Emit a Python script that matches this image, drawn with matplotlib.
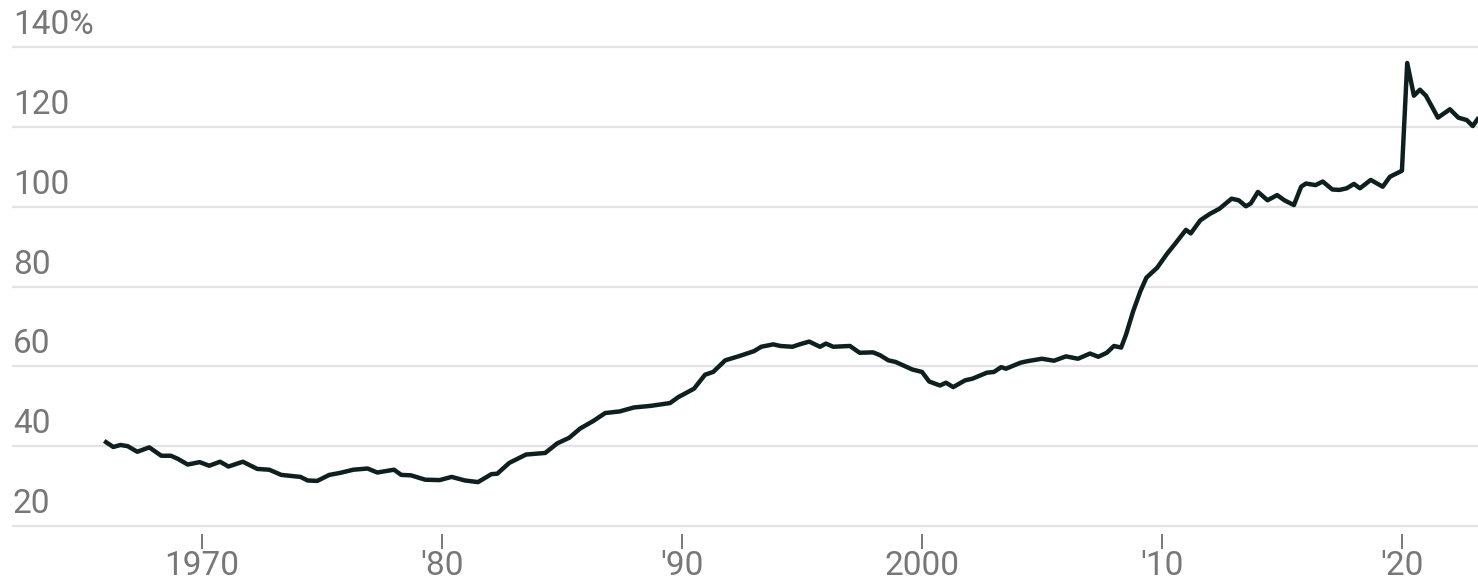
import matplotlib
matplotlib.use("Agg")
import matplotlib.pyplot as plt

# debt as % of GDP (decimal years)
years = [1966.0, 1966.3, 1966.6, 1966.9, 1967.3, 1967.8, 1968.3, 1968.7, 1969.0, 1969.4,
         1969.9, 1970.3, 1970.75, 1971.1, 1971.7, 1972.3, 1972.8, 1973.3, 1974.1, 1974.4,
         1974.8, 1975.3, 1975.75, 1976.3, 1976.9, 1977.3, 1978.0, 1978.3, 1978.7, 1979.3,
         1979.9, 1980.4, 1980.96, 1981.5, 1982.06, 1982.3, 1982.8, 1983.5, 1984.3, 1984.8,
         1985.3, 1985.75, 1986.3, 1986.8, 1987.4, 1988.0, 1988.7, 1989.5, 1989.85, 1990.5,
         1990.96, 1991.3, 1991.8, 1992.4, 1993.0, 1993.3, 1993.8, 1994.1, 1994.6, 1994.9,
         1995.3, 1995.75, 1996.0, 1996.3, 1997.0, 1997.4, 1997.96, 1998.25, 1998.6, 1998.9,
         1999.6, 2000.0, 2000.3, 2000.75, 2001.0, 2001.3, 2001.8, 2002.1, 2002.7, 2003.0,
         2003.3, 2003.5, 2004.1, 2004.4, 2005.0, 2005.5, 2006.0, 2006.5, 2007.0, 2007.35,
         2007.7, 2008.0, 2008.3, 2008.5, 2008.8, 2009.1, 2009.35, 2009.8, 2010.2, 2010.6,
         2011.0, 2011.2, 2011.6, 2012.0, 2012.4, 2012.9, 2013.2, 2013.5, 2013.7, 2014.0,
         2014.4, 2014.8, 2015.1, 2015.5, 2015.8, 2016.0, 2016.4, 2016.7, 2017.1, 2017.4,
         2017.7, 2018.0, 2018.25, 2018.7, 2019.2, 2019.5, 2020.0, 2020.22, 2020.5, 2020.75,
         2021.0, 2021.5, 2022.0, 2022.35, 2022.7, 2022.95, 2023.15]
debt_pct = [41.0, 39.8, 40.3, 40.0, 38.6, 39.7, 37.6, 37.6, 36.8, 35.4,
            36.0, 35.1, 36.1, 34.9, 36.1, 34.3, 34.1, 32.8, 32.3, 31.4,
            31.3, 32.8, 33.3, 34.1, 34.4, 33.4, 34.1, 32.8, 32.7, 31.6,
            31.5, 32.3, 31.4, 31.0, 33.0, 33.1, 35.8, 37.9, 38.3, 40.7,
            42.1, 44.4, 46.3, 48.3, 48.7, 49.7, 50.1, 50.8, 52.3, 54.4,
            57.9, 58.6, 61.5, 62.6, 63.8, 64.9, 65.5, 65.1, 64.9, 65.5,
            66.2, 64.9, 65.7, 64.9, 65.1, 63.4, 63.5, 62.8, 61.5, 61.1,
            59.2, 58.6, 56.2, 55.2, 55.9, 54.8, 56.5, 56.9, 58.4, 58.6,
            59.8, 59.4, 60.9, 61.3, 61.9, 61.4, 62.5, 61.9, 63.2, 62.4,
            63.4, 65.1, 64.7, 67.9, 73.8, 78.8, 82.2, 84.7, 88.1, 91.1,
            94.2, 93.3, 96.6, 98.2, 99.5, 102.0, 101.6, 100.1, 100.8, 103.7,
            101.6, 102.9, 101.6, 100.4, 105.0, 105.8, 105.4, 106.3, 104.3, 104.2,
            104.6, 105.7, 104.6, 106.7, 105.0, 107.5, 109.0, 136.0, 127.8, 129.3,
            127.8, 122.3, 124.4, 122.3, 121.7, 120.2, 121.9]

yticks = [20, 40, 60, 80, 100, 120, 140]
ytick_labels = ["20", "40", "60", "80", "100", "120", "140%"]
xticks = [1970, 1980, 1990, 2000, 2010, 2020]
xtick_labels = ["1970", "'80", "'90", "2000", "'10", "'20"]

W, H = 1478, 579
grey = "#777777"
plt.rcParams["font.family"] = ["Roboto", "DejaVu Sans"]

fig = plt.figure(figsize=(W / 100, H / 100), dpi=100)
# pixel layout: gridline 140 at y=47, 20 at y=526; axis from x=12 to right edge
ppu = (526 - 47) / 120
top_px = 47 - 2 * ppu
bot_px = 526 + 2 * ppu
ax = fig.add_axes([12 / W, (H - bot_px) / H, 1 - 12 / W, (bot_px - top_px) / H])
ax.set_ylim(18, 142)
ax.set_xlim(1962.08, 2023.17)

for v, lab in zip(yticks, ytick_labels):
    ax.axhline(v, color="#e3e3e3", lw=1.6, zorder=1)
    ax.annotate(lab, xy=(0, v), xycoords=ax.get_yaxis_transform(),
                xytext=(1, 13), textcoords="offset pixels", ha="left", va="baseline",
                fontsize=24, color=grey)

ax.plot(years, debt_pct, color="#0e1f20", lw=3.2, solid_joinstyle="round", zorder=3)

ax.set_yticks([])
ax.set_xticks(xticks)
ax.set_xticklabels(xtick_labels, fontsize=24, color=grey)
ax.tick_params(axis="x", length=10.8, width=1.4, color=grey, pad=0.5)
for s in ax.spines.values():
    s.set_visible(False)

fig.savefig("out.png", dpi=100, facecolor="white")
